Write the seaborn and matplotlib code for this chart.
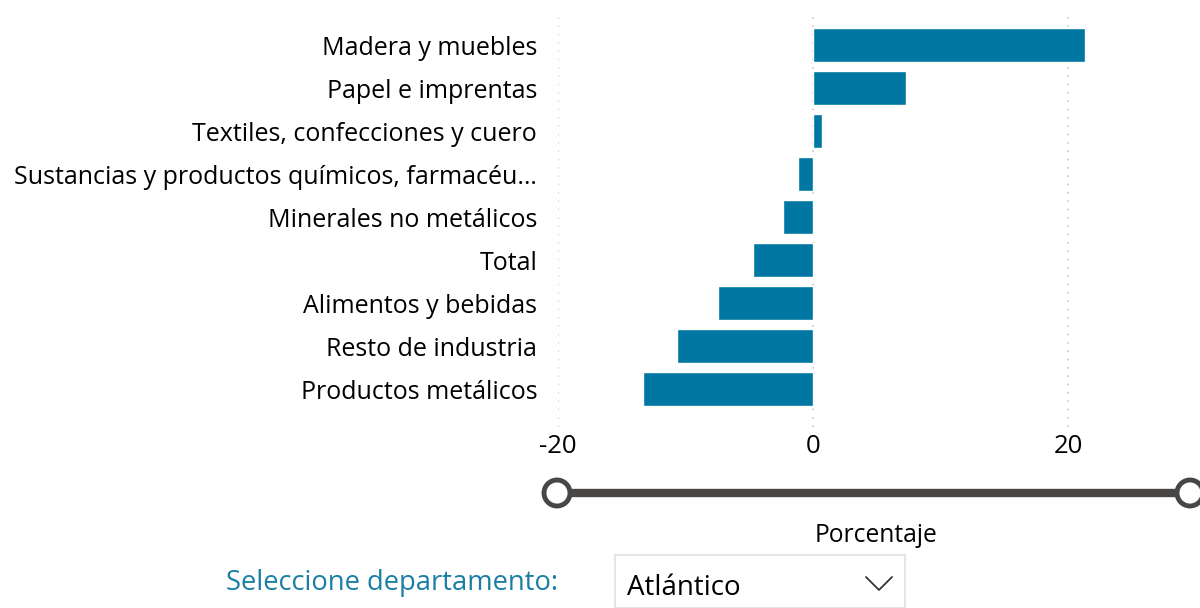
import matplotlib
matplotlib.use("Agg")
import matplotlib.pyplot as plt
import seaborn as sns
import pandas as pd
from matplotlib.lines import Line2D
from matplotlib.patches import Circle, Rectangle

# datos
sectores = [
    "Madera y muebles",
    "Papel e imprentas",
    "Textiles, confecciones y cuero",
    "Sustancias y productos químicos, farmacéu…",
    "Minerales no metálicos",
    "Total",
    "Alimentos y bebidas",
    "Resto de industria",
    "Productos metálicos",
]
porcentaje = [21.35, 7.28, 0.70, -1.19, -2.38, -4.74, -7.48, -10.66, -13.31]
ticks_x = [-20, 0, 20]

df = pd.DataFrame({"sector": sectores, "porcentaje": porcentaje})

sns.set_style("white")
plt.rcParams["font.family"] = ["Open Sans", "DejaVu Sans"]
plt.rcParams["text.color"] = "black"
plt.rcParams["xtick.color"] = "black"
plt.rcParams["ytick.color"] = "black"

W, H = 1200, 608
fig = plt.figure(figsize=(W / 100, H / 100), dpi=100)
ax = fig.add_axes([558 / W, 1 - 427 / H, (W - 558) / W, (427 - 12) / H])

sns.barplot(data=df, x="porcentaje", y="sector", orient="h", color="#0077a2",
            saturation=1, width=0.8, ax=ax)

ax.set_xlim(-20, 30.35)
ax.set_ylim(8.88, -0.77)
ax.set_xticks(ticks_x)
ax.set_xticklabels([str(t) for t in ticks_x], fontsize=18.5)
ax.tick_params(axis="y", labelsize=18, pad=15, length=0)
ax.tick_params(axis="x", length=0, pad=5)
ax.set_xlabel("")
ax.set_ylabel("")
for t in ticks_x:
    ax.axvline(t, color="#c8c8c8", linestyle=(0, (1, 4)), linewidth=1.2, zorder=0)
for s in ax.spines.values():
    s.set_visible(False)

# control deslizante debajo del eje
def px(x, y):
    return x / W, 1 - y / H

x0, y0 = px(557, 493)
x1, _ = px(1190, 493)
fig.add_artist(Line2D([x0, x1], [y0, y0], transform=fig.transFigure,
                      color="#484644", linewidth=6, solid_capstyle="butt"))
for cx in (557, 1190):
    fig.add_artist(Circle((cx, H - 493), 13, transform=None,
                          facecolor="white", edgecolor="#484644", linewidth=3.5, zorder=5))

fig.text(*px(876, 535), "Porcentaje", fontsize=17.7, ha="center", va="center")

# selector de departamento
fig.text(*px(558, 583), "Seleccione departamento:", fontsize=19.7, color="#1a7fa3",
         ha="right", va="center")
bx, by = px(615, 555)
fig.add_artist(Rectangle((bx, 0), (905 - 615) / W, by, transform=fig.transFigure,
                         facecolor="white", edgecolor="#e0e0e0", linewidth=1.2))
fig.text(*px(627, 588), "Atlántico", fontsize=20, ha="left", va="center")
cx0, cy0 = 866, 577
fig.add_artist(Line2D([cx0 / W, (cx0 + 13) / W, (cx0 + 26) / W],
                      [1 - cy0 / H, 1 - (cy0 + 13) / H, 1 - cy0 / H],
                      transform=fig.transFigure, color="#333333", linewidth=1.3))

fig.savefig("out.png", dpi=100)
